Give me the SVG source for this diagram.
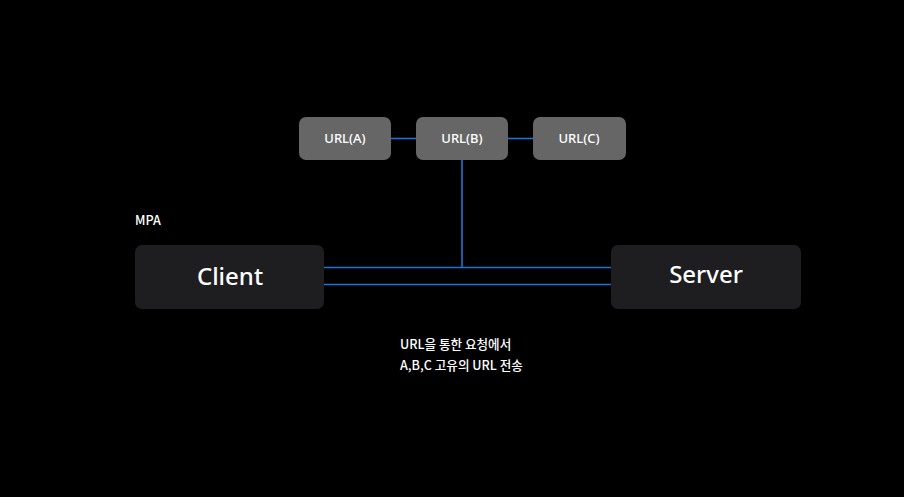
<svg xmlns="http://www.w3.org/2000/svg" width="904" height="497" viewBox="0 0 904 497">
<style>
.url rect{fill:#666666}
.big rect{fill:#1e1e20}
text{fill:#ffffff;font-family:"Noto Sans","Noto Sans CJK KR",sans-serif}
.url text{font-size:13px;font-weight:500;text-anchor:middle}
.big text{font-size:24px;font-weight:500;text-anchor:middle}
.lbl{font-size:12.6px;font-weight:500;font-family:"Noto Sans CJK KR","Noto Sans",sans-serif}
.conn line{stroke:#1a73d9;stroke-width:1.6}
</style>
<rect width="904" height="497" fill="#000000"/>
<g id="connectors" class="conn">
<line x1="391" y1="138.5" x2="416" y2="138.5"/>
<line x1="508" y1="138.5" x2="533" y2="138.5"/>
<line x1="462" y1="160" x2="462" y2="267.5"/>
<line x1="324" y1="267.5" x2="611" y2="267.5"/>
<line x1="324" y1="284.5" x2="611" y2="284.5"/>
</g>
<g id="urlA" class="url"><rect x="299" y="117" width="92" height="43" rx="7"/><text x="345" y="143">URL(A)</text></g>
<g id="urlB" class="url"><rect x="416" y="117" width="92" height="43" rx="7"/><text x="462" y="143">URL(B)</text></g>
<g id="urlC" class="url"><rect x="533" y="117" width="93" height="43" rx="7"/><text x="579" y="143">URL(C)</text></g>
<g id="client" class="big"><rect x="135" y="245" width="189" height="64" rx="7"/><text x="230" y="285">Client</text></g>
<g id="server" class="big"><rect x="611" y="245" width="190" height="64" rx="7"/><text x="706" y="283">Server</text></g>
<text x="135" y="225" class="lbl">MPA</text>
<text x="400" y="349" class="lbl">URL을 통한 요청에서</text>
<text x="400" y="370" class="lbl">A,B,C 고유의 URL 전송</text>
</svg>
